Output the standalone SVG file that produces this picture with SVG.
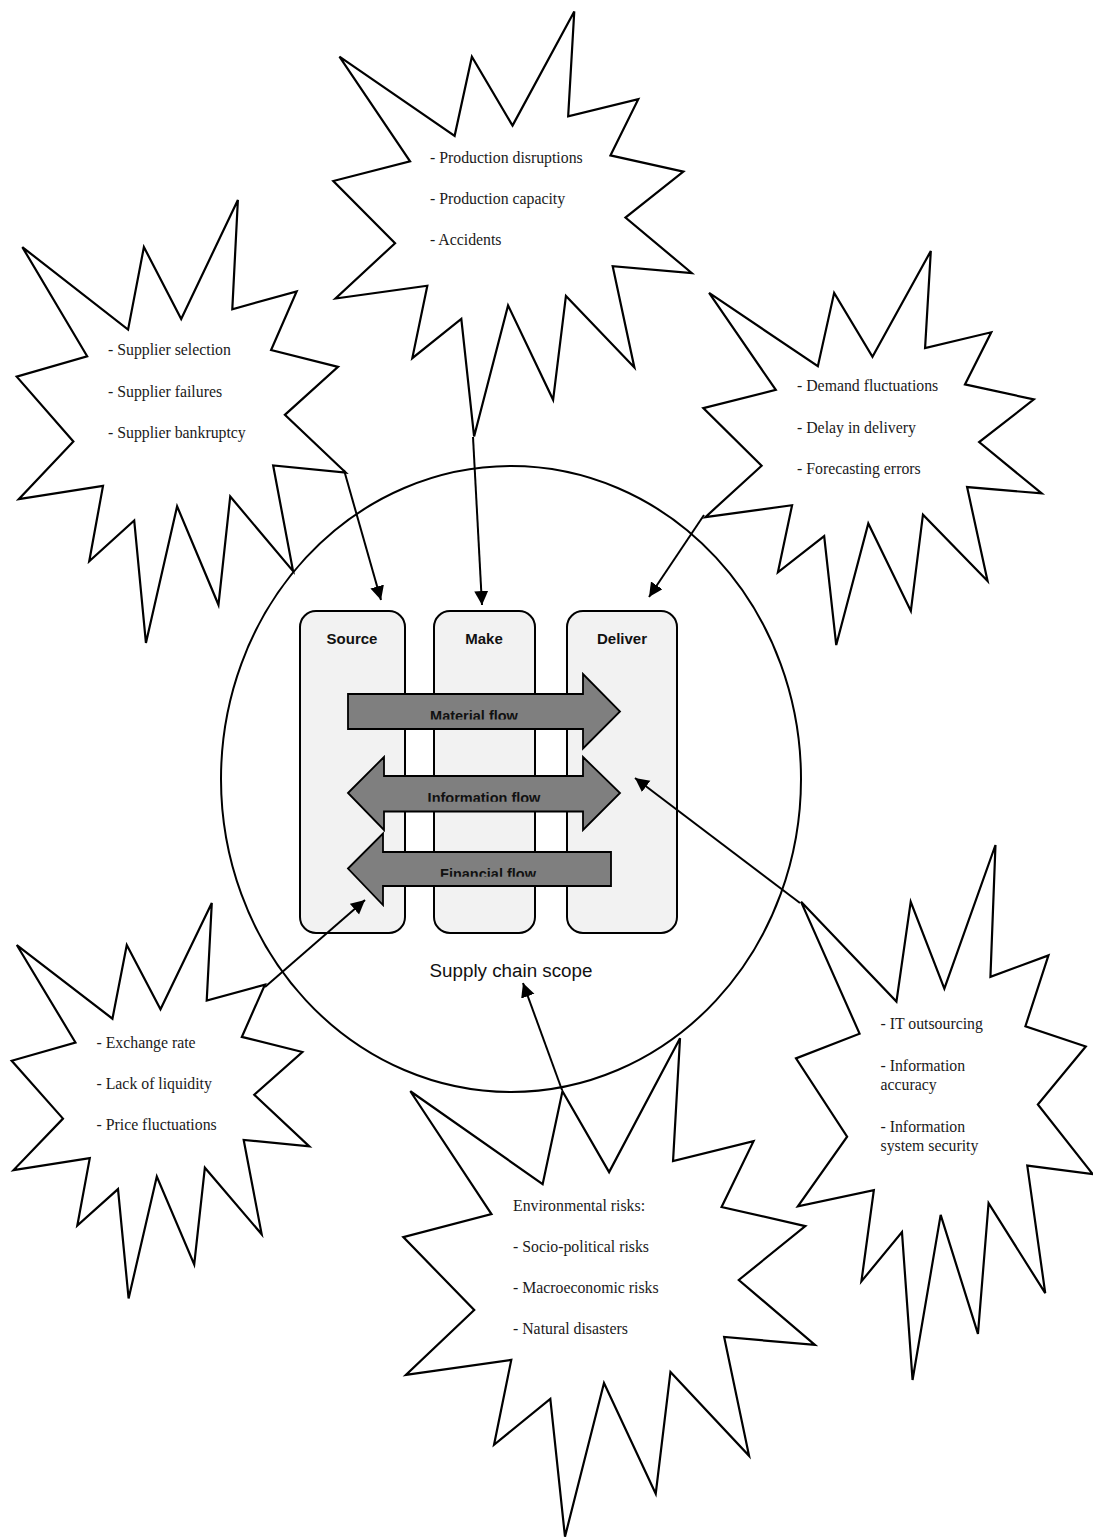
<svg xmlns="http://www.w3.org/2000/svg" xmlns:xlink="http://www.w3.org/1999/xlink" width="1093" height="1538" viewBox="0 0 1093 1538">
<style>
.seal{fill:#fff;stroke:#000;stroke-width:2.2;stroke-linejoin:miter;vector-effect:non-scaling-stroke}
.risk{font-family:"Liberation Serif","Times New Roman",serif;font-size:15.8px;fill:#1a1a1a}
.col{fill:#f2f2f2;stroke:#000;stroke-width:2}
.colt{font-family:"Liberation Sans",Arial,sans-serif;font-weight:bold;font-size:15px;fill:#111;text-anchor:middle}
.flow{fill:#7f7f7f;stroke:#000;stroke-width:1.8;stroke-linejoin:miter}
.flowt{font-family:"Liberation Sans",Arial,sans-serif;font-weight:bold;font-size:14.5px;fill:#111;text-anchor:middle}
.conn{stroke:#000;stroke-width:2;fill:none;marker-end:url(#ah)}
</style>
<defs>
<path id="seal" class="seal" d="M10800,5800 L14522,0 L14155,5325 L18380,4457 L16702,7315 L21097,8137 L17607,10475 L21600,13290 L16837,12942 L18145,18095 L14020,14457 L13247,19737 L10532,14935 L8485,21600 L7715,15627 L4762,17617 L5667,13937 L135,14587 L3722,11775 L0,8615 L4627,7617 L370,2295 L7312,6320 L8352,2295 Z"/>
<marker id="ah" markerUnits="userSpaceOnUse" markerWidth="16" markerHeight="16" refX="14" refY="7" orient="auto">
<path d="M0,0 L14,7 L0,14 Z" fill="#000"/>
</marker>
<clipPath id="c1"><rect x="380" y="700" width="200" height="19.5"/></clipPath>
<clipPath id="c2"><rect x="380" y="780" width="200" height="21.7"/></clipPath>
<clipPath id="c3"><rect x="380" y="855" width="220" height="21.7"/></clipPath>
</defs>

<g id="scope">
<ellipse cx="511" cy="779" rx="290" ry="313" fill="none" stroke="#000" stroke-width="2"/>
<text x="511" y="977" font-family="'Liberation Sans',Arial,sans-serif" font-size="18.8" fill="#111" text-anchor="middle">Supply chain scope</text>
</g>

<g id="source"><rect class="col" x="300" y="611" width="105" height="322" rx="16"/><text class="colt" x="352" y="644">Source</text></g>
<g id="make"><rect class="col" x="434" y="611" width="101" height="322" rx="16"/><text class="colt" x="484" y="644">Make</text></g>
<g id="deliver"><rect class="col" x="567" y="611" width="110" height="322" rx="16"/><text class="colt" x="622" y="644">Deliver</text></g>

<g id="material-flow">
<path class="flow" d="M348,694 L583,694 L583,674 L620,711.5 L583,748.5 L583,729 L348,729 Z"/>
<text class="flowt" x="474" y="721" clip-path="url(#c1)">Material flow</text>
</g>
<g id="information-flow">
<path class="flow" d="M348,793 L384,757 L384,776 L583,776 L583,757 L620,793 L583,830 L583,811.5 L384,811.5 L384,830 Z"/>
<text class="flowt" x="484" y="803" clip-path="url(#c2)">Information flow</text>
</g>
<g id="financial-flow">
<path class="flow" d="M348,868.5 L383,833.5 L383,852 L611,852 L611,886 L383,886 L383,905 Z"/>
<text class="flowt" x="488" y="879" clip-path="url(#c3)">Financial flow</text>
</g>

<g id="supplier-risks">
<use xlink:href="#seal" href="#seal" transform="translate(16.7,200) scale(0.015231,0.020509)"/>
<text class="risk" x="108" y="355">- Supplier selection</text>
<text class="risk" x="108" y="396.5">- Supplier failures</text>
<text class="risk" x="108" y="438">- Supplier bankruptcy</text>
</g>

<g id="production-risks">
<use xlink:href="#seal" href="#seal" transform="translate(333.3,11.5) scale(0.016593,0.019676)"/>
<text class="risk" x="430" y="163">- Production disruptions</text>
<text class="risk" x="430" y="204">- Production capacity</text>
<text class="risk" x="430" y="245">- Accidents</text>
</g>

<g id="delivery-risks">
<use xlink:href="#seal" href="#seal" transform="translate(703.3,251) scale(0.015667,0.018241)"/>
<text class="risk" x="797" y="391">- Demand fluctuations</text>
<text class="risk" x="797" y="433">- Delay in delivery</text>
<text class="risk" x="797" y="474">- Forecasting errors</text>
</g>

<g id="financial-risks">
<use xlink:href="#seal" href="#seal" transform="translate(11.7,903) scale(0.013778,0.018310)"/>
<text class="risk" x="96.5" y="1047.5">- Exchange rate</text>
<text class="risk" x="96.5" y="1089">- Lack of liquidity</text>
<text class="risk" x="96.5" y="1130">- Price fluctuations</text>
</g>

<g id="environmental-risks">
<use xlink:href="#seal" href="#seal" transform="translate(403.3,1038.3) scale(0.019056,0.023074)"/>
<text class="risk" x="513" y="1211">Environmental risks:</text>
<text class="risk" x="513" y="1252">- Socio-political risks</text>
<text class="risk" x="513" y="1293">- Macroeconomic risks</text>
<text class="risk" x="513" y="1334">- Natural disasters</text>
</g>

<g id="information-risks">
<use xlink:href="#seal" href="#seal" transform="translate(796,845) scale(0.013736,0.024769)"/>
<text class="risk" x="880.5" y="1029">- IT outsourcing</text>
<text class="risk" x="880.5" y="1071">- Information</text>
<text class="risk" x="880.5" y="1090">accuracy</text>
<text class="risk" x="880.5" y="1131.5">- Information</text>
<text class="risk" x="880.5" y="1150.5">system security</text>
</g>

<g id="connectors">
<line class="conn" x1="344" y1="470" x2="381" y2="600"/>
<line class="conn" x1="473" y1="437" x2="482" y2="605"/>
<line class="conn" x1="704" y1="515" x2="649" y2="597"/>
<line class="conn" x1="800" y1="903" x2="635" y2="778"/>
<line class="conn" x1="562" y1="1090" x2="523" y2="983"/>
<line class="conn" x1="265" y1="987" x2="365" y2="900"/>
</g>
</svg>
